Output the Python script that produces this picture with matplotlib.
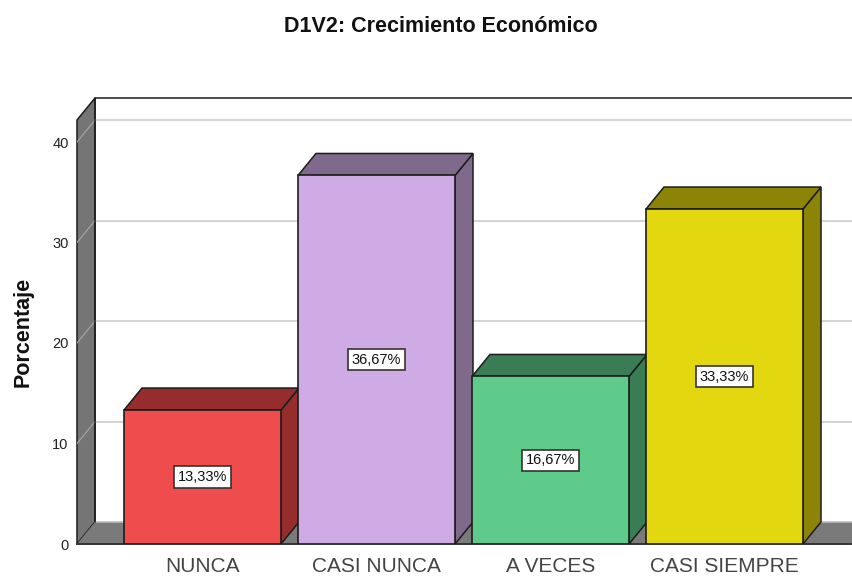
import matplotlib
matplotlib.use("Agg")
import matplotlib.pyplot as plt
from matplotlib.patches import Polygon

plt.rcParams['font.family'] = ['Liberation Sans', 'DejaVu Sans']

# data
categories = ['NUNCA', 'CASI NUNCA', 'A VECES', 'CASI SIEMPRE']
values = [13.33, 36.67, 16.67, 33.33]
labels = ['13,33%', '36,67%', '16,67%', '33,33%']
front_colors = ['#EF4D4D', '#CFABE5', '#5FCB8B', '#E3D80F']
dark_colors = ['#952D2D', '#806A8B', '#3A7D55', '#8B8407']
yticks = [0, 10, 20, 30, 40]

W, H = 853, 576
fig = plt.figure(figsize=(W / 100, H / 100), dpi=100)

# axes box in pixels of the picture
left, right, top, bottom = 77, 853, 98, 544
ax = fig.add_axes([left / W, 1 - bottom / H, (right - left) / W, (bottom - top) / H])
ax.set_xlim((left - 202.5) / 174, (right - 202.5) / 174)
ax.set_ylim(0, (bottom - top) / 10.05)
for s in ax.spines.values():
    s.set_visible(False)

# depth of the fake 3d, in data units
dx = 18 / 174
dy = 22 / 10.05
bar_w = 157 / 174
x0, x1 = ax.get_xlim()
ytop = ax.get_ylim()[1] - dy
edge = '#1c1c1c'
xfloor = x1 - 2 / 174

# left wall and floor
ax.add_patch(Polygon([(x0, 0), (x0 + dx, dy), (x0 + dx, ytop + dy), (x0, ytop)],
                     fc='#757575', ec=edge, lw=1.1, zorder=1, clip_on=False))
ax.add_patch(Polygon([(x0, 0), (x0 + dx, dy), (x1 + dx, dy), (xfloor, 0)],
                     fc='#7A7A7A', ec='none', zorder=1))
ax.plot([x0 + dx, x1], [dy, dy], color='#BDBDBD', lw=1.2, zorder=1.5)
ax.plot([x0, xfloor], [0, 0], color='#333333', lw=1.4, zorder=1.5, clip_on=False)
ax.plot([x0 + dx, x1], [ytop + dy, ytop + dy], color=edge, lw=1.1, zorder=2, clip_on=False)

# gridlines on back wall and their slant on the left wall
for t in yticks[1:]:
    ax.plot([x0 + dx, x1], [t + dy, t + dy], color='#CCCCCC', lw=1.2, zorder=1.5)
    ax.plot([x0, x0 + dx], [t, t + dy], color='#A8A8A8', lw=0.8, zorder=1.5)
ax.plot([x0 + dx, x0 + dx], [0 + dy, ytop + dy], color=edge, lw=1.1, zorder=2)

# bars: side, top, front
for i, v in enumerate(values):
    a, b = i - bar_w / 2, i + bar_w / 2
    ax.add_patch(Polygon([(b, 0), (b + dx, dy), (b + dx, v + dy), (b, v)],
                         fc=dark_colors[i], ec=edge, lw=1.1, zorder=3))
    ax.add_patch(Polygon([(a, v), (a + dx, v + dy), (b + dx, v + dy), (b, v)],
                         fc=dark_colors[i], ec=edge, lw=1.1, zorder=3))
    ax.add_patch(Polygon([(a, 0), (a, v), (b, v), (b, 0)],
                         fc=front_colors[i], ec=edge, lw=1.2, zorder=4))
    ax.text(i, v / 2, labels[i], ha='center', va='center', fontsize=10.5, color='#111111', zorder=5,
            bbox=dict(boxstyle='square,pad=0.25', fc='white', ec='#333333', lw=1.2))

ax.set_xticks(range(len(categories)))
ax.set_xticklabels(categories, fontsize=15, color='#444444')
ax.set_yticks(yticks)
ax.set_yticklabels([str(t) for t in yticks], fontsize=10.5, color='#222222')
ax.tick_params(length=0)
ax.tick_params(axis='x', pad=9)
ax.tick_params(axis='y', pad=6)

ax.set_ylabel('Porcentaje', fontsize=15.5, fontweight='bold', color='#111111')
ax.yaxis.set_label_coords(-0.056, 212 / 446)
fig.text(440.5 / W, 1 - 26 / H, 'D1V2: Crecimiento Económico', ha='center', va='center',
         fontsize=15.5, fontweight='bold', color='#111111')

fig.savefig('out.png', dpi=100)
